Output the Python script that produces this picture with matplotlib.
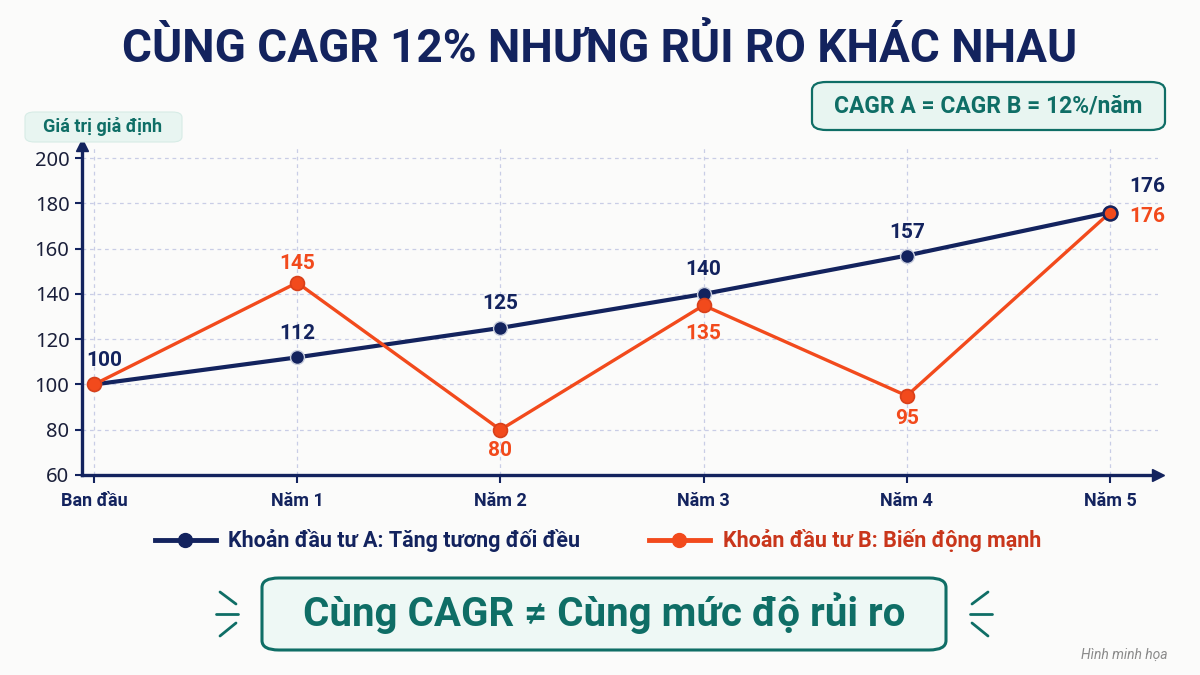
import matplotlib
matplotlib.use('Agg')
import matplotlib.pyplot as plt
from matplotlib.patches import FancyBboxPatch
from matplotlib.lines import Line2D

# ------------------------------------------------------------------ #
# Data
# ------------------------------------------------------------------ #
periods = ['Ban đầu', 'Năm 1', 'Năm 2', 'Năm 3', 'Năm 4', 'Năm 5']
values_a = [100, 112, 125, 140, 157, 176]
values_b = [100, 145, 80, 135, 95, 176]
y_ticks = [60, 80, 100, 120, 140, 160, 180, 200]

label_a = 'Khoản đầu tư A: Tăng tương đối đều'
label_b = 'Khoản đầu tư B: Biến động mạnh'

NAVY = '#13235e'
ORANGE = '#f24a1c'
ORANGE_TXT = '#c9361b'
TEAL = '#0f6e66'
TEAL_BG = '#e8f5f1'
BG = '#fbfbfa'

BOLD = ['Roboto', 'DejaVu Sans']
plt.rcParams['font.family'] = ['Noto Sans', 'DejaVu Sans']

fig = plt.figure(figsize=(12, 6.75), dpi=100, facecolor=BG)
ax = fig.add_axes([0.0683, 0.2963, 0.8967, 0.4887], facecolor=BG)

x = list(range(len(periods)))
ax.plot(x, values_a, color=NAVY, lw=3, marker='o', ms=10,
        mfc=NAVY, mec='#c9cede', mew=1.0, zorder=3)
ax.plot(x, values_b, color=ORANGE, lw=2.4, marker='o', ms=10,
        mfc=ORANGE, mec='#d8401a', mew=1.2, zorder=4)
# last point overlap (orange with navy ring)
ax.plot(x[-1], values_b[-1], marker='o', ms=10, mfc=ORANGE, mec=NAVY, mew=1.8, zorder=5)

ax.set_xlim(-0.059, 5.236)
ax.set_ylim(60, 205.8)
ax.set_yticks(y_ticks)
ax.set_xticks(x)
ax.set_xticklabels(periods, fontsize=13, fontweight='bold', color=NAVY, family=BOLD)
ax.tick_params(axis='y', labelsize=14.5, length=5, width=1.5, color=NAVY, pad=4)
ax.tick_params(axis='x', length=6, width=1.5, color=NAVY, pad=6)
for lb in ax.get_yticklabels():
    lb.set_color('#1a1f3a')

ax.grid(True, color='#c9cde6', ls=(0, (3, 3)), lw=0.9)
ax.set_axisbelow(True)
for s in ['top', 'right']:
    ax.spines[s].set_visible(False)
for s in ['left', 'bottom']:
    ax.spines[s].set_color(NAVY)
    ax.spines[s].set_linewidth(2.4)

# axis arrows
ax.plot(1, 0, '>', color=NAVY, ms=8, transform=ax.transAxes, clip_on=False)
ax.plot(0, 1, '^', color=NAVY, ms=8, transform=ax.transAxes, clip_on=False)

# data labels (offsets in pixels from the point)
lab_kw = dict(fontsize=15, fontweight='bold', family=BOLD, ha='center', va='center',
              textcoords='offset pixels')
off_a = [(10, 24), (0, 24), (0, 24), (0, 24), (0, 23), (37, 26)]
off_b = [None, (0, 19), (0, -21), (0, -28), (0, -23), (37, -4)]
for i, v in enumerate(values_a):
    ax.annotate(str(v), (i, v), xytext=off_a[i], color=NAVY, **lab_kw)
for i, v in enumerate(values_b):
    if off_b[i] is not None:
        ax.annotate(str(v), (i, v), xytext=off_b[i], color=ORANGE, **lab_kw)

# title
fig.text(0.5, 1 - 48 / 675, 'CÙNG CAGR 12% NHƯNG RỦI RO KHÁC NHAU', ha='center', va='center',
         fontsize=33, fontweight='bold', color=NAVY, family=BOLD)

# CAGR box
fig.patches.append(FancyBboxPatch((812 / 1200, 1 - 130 / 675), 353 / 1200, 48 / 675,
                                  boxstyle='round,pad=0,rounding_size=0.012',
                                  transform=fig.transFigure, fc=TEAL_BG, ec=TEAL, lw=1.6))
fig.text(988 / 1200, 1 - 106 / 675, 'CAGR A = CAGR B = 12%/năm', ha='center', va='center',
         fontsize=16.5, fontweight='bold', color=TEAL, family=BOLD)

# y label box
fig.patches.append(FancyBboxPatch((25 / 1200, 1 - 142 / 675), 157 / 1200, 30 / 675,
                                  boxstyle='round,pad=0,rounding_size=0.008',
                                  transform=fig.transFigure, fc=TEAL_BG, ec='#d7ece6', lw=0.8))
fig.text(103 / 1200, 1 - 127 / 675, 'Giá trị giả định', ha='center', va='center',
         fontsize=13, fontweight='bold', color=TEAL, family=BOLD)

# legend
handles = [Line2D([], [], color=NAVY, lw=3.5, marker='o', ms=10, mfc=NAVY, mec=NAVY),
           Line2D([], [], color=ORANGE, lw=3.5, marker='o', ms=10, mfc=ORANGE, mec=ORANGE)]
leg = fig.legend(handles, [label_a, label_b], loc='center', bbox_to_anchor=(598 / 1200, 1 - 541 / 675),
                 ncol=2, frameon=False, handlelength=2.8, columnspacing=3.2, handletextpad=0.6,
                 prop={'family': BOLD, 'weight': 'bold', 'size': 15.5})
for t, c in zip(leg.get_texts(), [NAVY, ORANGE_TXT]):
    t.set_color(c)

# bottom message box
fig.patches.append(FancyBboxPatch((262 / 1200, 1 - 650 / 675), 684 / 1200, 72 / 675,
                                  boxstyle='round,pad=0,rounding_size=0.014',
                                  transform=fig.transFigure, fc='#eef8f5', ec=TEAL, lw=2.2))
fig.text(604 / 1200, 1 - 613 / 675, 'Cùng CAGR ≠ Cùng mức độ rủi ro', ha='center', va='center',
         fontsize=29, fontweight='bold', color=TEAL, family=BOLD)

# decorative dashes
def dash(x0, y0, x1, y1):
    fig.add_artist(Line2D([x0 / 1200, x1 / 1200], [1 - y0 / 675, 1 - y1 / 675],
                          color=TEAL, lw=2, solid_capstyle='round'))

dash(220, 592, 236, 604)
dash(216, 614, 238, 614)
dash(220, 636, 236, 623)
dash(988, 592, 972, 604)
dash(992, 614, 970, 614)
dash(988, 636, 972, 623)

fig.text(1168 / 1200, 1 - 655 / 675, 'Hình minh họa', ha='right', va='center',
         fontsize=10, style='italic', color='#8a8a8a', family=BOLD)

fig.savefig('out.png', dpi=100, facecolor=BG)
